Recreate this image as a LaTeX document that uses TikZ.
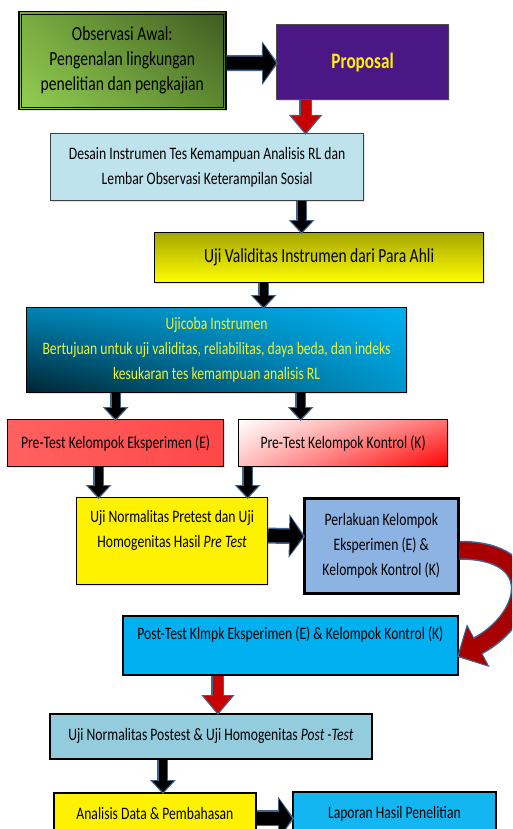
\documentclass[tikz,border=0pt]{standalone}
\usepackage{fontspec}
\setmainfont[FakeStretch=0.78]{Carlito}
\usepackage{xcolor}
\usepackage{tikz}
\usetikzlibrary{arrows.meta,shadows,shadings}
\definecolor{edgeblue}{HTML}{41648F}
\definecolor{arrred}{HTML}{C80000}
\definecolor{curvred}{HTML}{A80000}
\definecolor{purp}{HTML}{4B1784}
\definecolor{aqua}{HTML}{BFE3EC}
\definecolor{steel}{HTML}{8DB3E2}
\definecolor{sky}{HTML}{00B0F0}
\definecolor{paleblue}{HTML}{93CDDD}
\definecolor{txtyellow}{HTML}{F2F230}
\definecolor{grUL}{HTML}{79AC42}
\definecolor{grUR}{HTML}{3E5A20}
\definecolor{grLL}{HTML}{94D052}
\definecolor{grLR}{HTML}{5E8A30}
\tikzset{
  box/.style={draw=black,line width=1.2pt,align=center,inner sep=2pt,anchor=north west,
    font=\fontsize{17.5}{25}\selectfont,
    drop shadow={shadow xshift=1.5pt,shadow yshift=-1.5pt,fill=black!22}},
  dn/.style={line width=8pt,-{Triangle[length=11pt,width=20pt]},
    preaction={draw=edgeblue,line width=11pt,shorten >=-2pt,-{Triangle[length=14pt,width=25pt]}}},
  hz/.style={line width=13pt,-{Triangle[length=13pt,width=38pt]},
    preaction={draw=edgeblue,line width=16pt,shorten >=-2pt,-{Triangle[length=16pt,width=43pt]}}},
  rd/.style={line width=10pt,draw=arrred,-{Triangle[length=17pt,width=27pt]},
    preaction={draw=edgeblue,line width=13pt,shorten >=-2pt,-{Triangle[length=20pt,width=32pt]}}},
  cv/.style={line width=16pt,draw=curvred,-{Triangle[length=21pt,width=42pt]},
    preaction={draw=edgeblue,line width=19pt,shorten >=-2pt,-{Triangle[length=24pt,width=47pt]}}}
}
\begin{document}
\begin{tikzpicture}[x=1pt,y=-1pt]
\useasboundingbox (0,0) rectangle (512,829);
\clip (0,0) rectangle (512,829);
% boxes
\node[box,line width=1.5pt,shade,upper left=grUL,upper right=grUR,lower left=grLL,lower right=grLR,
  font=\fontsize{20}{25}\selectfont,minimum width=207pt,minimum height=98pt] (obs) at (18,11)
  {Observasi Awal:\\Pengenalan lingkungan\\penelitian dan pengkajian};
\draw[line width=0.8pt] ([shift={(3pt,-3pt)}]obs.north west) rectangle ([shift={(-3pt,3pt)}]obs.south east);
\node[box,draw=black!70,fill=purp,text=yellow,font=\fontsize{22}{25}\selectfont,
  minimum width=172pt,minimum height=75pt] (prop) at (276,24)
  {\textbf{Proposal}};
\node[box,draw=black!75,fill=aqua,minimum width=313pt,minimum height=67pt] (desain) at (50,133)
  {Desain Instrumen Tes Kemampuan Analisis RL dan\\Lembar Observasi Keterampilan Sosial};
\node[box,shade,top color=yellow!65!black,bottom color=yellow,font=\fontsize{20}{25}\selectfont,
  minimum width=329pt,minimum height=50pt] (valid) at (154,232)
  {Uji Validitas Instrumen dari Para Ahli};
\node[box,shade,upper left=sky!75!black,upper right=sky,lower left=sky!20!black,lower right=sky!85!black,
  text=txtyellow,minimum width=380pt,minimum height=85pt] (ujicoba) at (26,307)
  {Ujicoba Instrumen\\Bertujuan untuk uji validitas, reliabilitas, daya beda, dan indeks\\kesukaran tes kemampuan analisis RL};
\node[box,shade,left color=red!62!white,right color=red!72!white,minimum width=216pt,minimum height=47pt] (preE) at (7,419)
  {Pre-Test Kelompok Eksperimen (E)};
\node[box,shade,upper left=white,upper right=red!55!white,lower left=red!25!white,lower right=red,
  minimum width=209pt,minimum height=47pt] (preK) at (238,419)
  {Pre-Test Kelompok Kontrol (K)};
\node[box,fill=yellow,minimum width=191pt,minimum height=87pt] (normpre) at (76,497)
  {Uji Normalitas Pretest dan Uji\\Homogenitas Hasil \textit{Pre Test}\\~};
\node[box,line width=2.5pt,fill=steel,minimum width=154pt,minimum height=95pt] (perl) at (303,497)
  {Perlakuan Kelompok\\Eksperimen (E) \&\\Kelompok Kontrol (K)};
\node[box,line width=1.8pt,fill=sky,minimum width=335pt,minimum height=59pt] (post) at (122,615)
  {Post-Test Klmpk Eksperimen (E) \& Kelompok Kontrol (K)\\~};
\node[box,line width=1.8pt,fill=paleblue,minimum width=322pt,minimum height=45pt] (normpost) at (49,713)
  {Uji Normalitas Postest \& Uji Homogenitas \textit{Post -Test}};
\node[box,line width=1.8pt,fill=yellow,minimum width=202pt,minimum height=42pt] (analisis) at (53,792)
  {Analisis Data \& Pembahasan};
\node[box,line width=1.8pt,fill=sky!92!white,minimum width=203pt,minimum height=43pt] (laporan) at (292,791)
  {Laporan Hasil Penelitian};
% connectors
\draw[hz] ([yshift=-2.5pt]obs.east) -- ([yshift=-1pt]prop.west);
\draw[rd] ([xshift=-57pt]prop.south) -- ([xshift=98.5pt]desain.north);
\draw[dn] ([xshift=94.5pt]desain.south) -- ([xshift=-17.5pt]valid.north);
\draw[dn] ([xshift=-55.5pt]valid.south) -- ([xshift=47pt]ujicoba.north);
\draw[dn] ([xshift=-101pt]ujicoba.south) -- (preE.north);
\draw[dn] ([xshift=84pt]ujicoba.south) -- ([xshift=-42.5pt]preK.north);
\draw[dn] ([xshift=-17pt]preE.south) -- ([xshift=-73.5pt]normpre.north);
\draw[dn] ([xshift=-95.5pt]preK.south) -- ([xshift=75.5pt]normpre.north);
\draw[hz] ([yshift=5.5pt]normpre.east) -- ([yshift=9.5pt]perl.west);
\draw[cv] ([yshift=-4.5pt]perl.east) .. controls +(85,0) and +(72,-38) .. ([yshift=-10.5pt]post.east);
\draw[rd] ([xshift=-72.5pt]post.south) -- ([xshift=7pt]normpost.north);
\draw[dn] ([xshift=-48pt]normpost.south) -- ([xshift=8pt]analisis.north);
\draw[hz] ([yshift=-4.5pt]analisis.east) -- ([yshift=-5pt]laporan.west);
\end{tikzpicture}
\end{document}
